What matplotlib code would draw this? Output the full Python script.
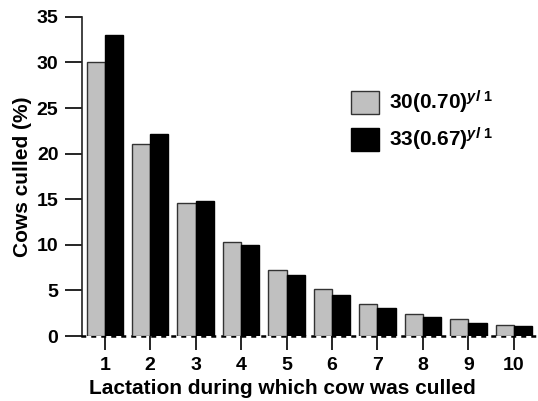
import numpy as np
import matplotlib
matplotlib.use('Agg')
import matplotlib.pyplot as plt

plt.rcParams['font.family'] = ['Liberation Sans', 'DejaVu Sans']
plt.rcParams['font.weight'] = 'bold'
plt.rcParams['mathtext.fontset'] = 'custom'
plt.rcParams['mathtext.rm'] = 'Liberation Sans:bold'
plt.rcParams['mathtext.bf'] = 'Liberation Sans:bold'
plt.rcParams['mathtext.it'] = 'Liberation Sans:bold:italic'

# data
lactation = [1, 2, 3, 4, 5, 6, 7, 8, 9, 10]
culled_30 = [30.0, 21.1, 14.6, 10.3, 7.2, 5.15, 3.5, 2.45, 1.85, 1.25]
culled_33 = [33.0, 22.1, 14.8, 9.95, 6.65, 4.55, 3.1, 2.05, 1.45, 1.05]
label_30 = r'30(0.70)$^{\mathit{y}l\ 1}$'
label_33 = r'33(0.67)$^{\mathit{y}l\ 1}$'

fig = plt.figure(figsize=(5.38, 4.01), dpi=100)
ax = fig.add_axes([0.1524, 0.162, 0.845, 0.796])

x = np.array(lactation)
w = 0.4
ax.bar(x - w / 2, culled_30, width=w, color='#c0c0c0', edgecolor='#333333',
       linewidth=1.0, label=label_30, zorder=3)
ax.bar(x + w / 2, culled_33, width=w, color='black', edgecolor='black',
       linewidth=1.0, label=label_33, zorder=3)

ax.set_xlim(0.5, 10.5)
ax.set_ylim(0, 35)
ax.set_yticks(range(0, 36, 5))
ax.set_xticks(lactation)

ax.spines['top'].set_visible(False)
ax.spines['right'].set_visible(False)
ax.spines['bottom'].set_linestyle((0, (1, 3)))
ax.spines['bottom'].set_linewidth(1.8)
ax.spines['left'].set_linewidth(1.2)
ax.spines['left'].set_color('#222222')
ax.tick_params(axis='y', length=12, width=1.2, labelsize=14, pad=5)
ax.tick_params(axis='x', length=10, width=1.2, labelsize=14, pad=5)
for lbl in ax.get_xticklabels() + ax.get_yticklabels():
    lbl.set_fontweight('bold')

ax.set_xlabel('Lactation during which cow was culled', fontsize=15,
              fontweight='bold')
ax.set_ylabel('Cows culled (%)', fontsize=15, fontweight='bold')
ax.xaxis.set_label_coords(0.44, -0.135)
ax.yaxis.set_label_coords(-0.11, 0.5)

leg = ax.legend(loc='upper left', bbox_to_anchor=(0.574, 0.80), frameon=False,
                fontsize=15, handlelength=1.35, handleheight=1.35,
                handletextpad=0.45, labelspacing=0.45, borderaxespad=0)
for t in leg.get_texts():
    t.set_fontweight('bold')

plt.savefig('out.png', dpi=100)
plt.close()
